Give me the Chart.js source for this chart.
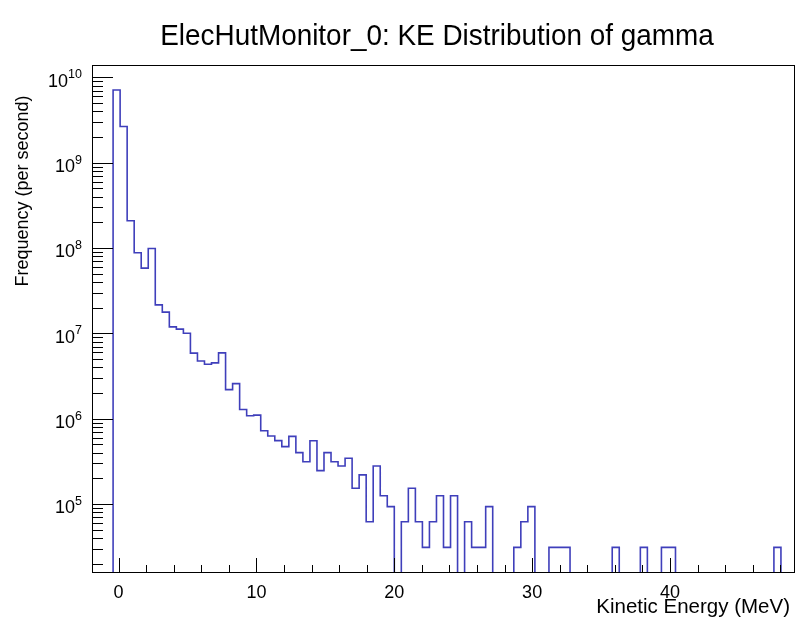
<!DOCTYPE html>
<html><head><meta charset="utf-8">
<script src="https://cdn.jsdelivr.net/npm/chart.js@4.4.1/dist/chart.umd.min.js"></script>
<style>html,body{margin:0;padding:0;background:#fff;}</style>
</head><body>
<canvas id="c" width="798" height="624"></canvas>
<script>
// ---- chart text ----
const titleText = 'ElecHutMonitor_0: KE Distribution of gamma';
const xTitle = 'Kinetic Energy (MeV)';
const yTitle = 'Frequency (per second)';

// ---- histogram binning (axis range) ----
const xMin = -1.93;
const xMax = 49.07;
const nBins = 100;

// ---- tick labels ----
const xTickLabels = [0, 10, 20, 30, 40];
const yTickExponents = [5, 6, 7, 8, 9, 10];

// ---- series: frequency per bin (0 = empty bin) ----
const binValues = [
  0, 0, 0, 7.1e9, 2.65e9, 2.08e8, 8.8e7, 5.8e7, 9.85e7, 2.15e7,
  1.77e7, 1.19e7, 1.12e7, 1.0e7, 5.85e6, 4.74e6, 4.34e6, 4.5e6, 5.9e6, 2.19e6,
  2.57e6, 1.28e6, 1.08e6, 1.1e6, 7.2e5, 6.27e5, 5.52e5, 4.7e5, 6.2e5, 4.0e5,
  3.13e5, 5.5e5, 2.46e5, 4.0e5, 3.13e5, 2.79e5, 3.43e5, 1.53e5, 2.19e5, 6.2e4,
  2.79e5, 1.25e5, 9.3e4, 0, 6.2e4, 1.53e5, 6.2e4, 3.1e4, 6.2e4, 1.25e5,
  3.1e4, 1.25e5, 0, 6.2e4, 3.1e4, 3.1e4, 9.3e4, 0, 0, 0,
  3.1e4, 6.2e4, 9.3e4, 0, 0, 3.1e4, 3.1e4, 3.1e4, 0, 0,
  0, 0, 0, 0, 3.1e4, 0, 0, 0, 3.1e4, 0,
  0, 3.1e4, 3.1e4, 0, 0, 0, 0, 0, 0, 0,
  0, 0, 0, 0, 0, 0, 0, 3.1e4, 0, 0
];

// ---- y axis range (log10 exponents) ----
const yMinExp = 4.191;
const yMaxExp = 10.144;

// build step points from the bins (value of bin i spans [edge i, edge i+1])
const binWidth = (xMax - xMin) / nBins;
const FLOOR = 1; // empty bins drawn below the frame (clipped)
const points = binValues.map((v, i) => ({ x: xMin + i * binWidth, y: v > 0 ? v : FLOOR }));
points.push({ x: xMax, y: FLOOR });

const FONT = '"Liberation Sans", Arial, Helvetica, sans-serif';

const rootAxes = {
  id: 'rootAxes',
  afterDraw(chart) {
    const ctx = chart.ctx;
    const a = chart.chartArea;
    const xs = chart.scales.x, ys = chart.scales.y;
    ctx.save();
    ctx.strokeStyle = '#000';
    ctx.lineWidth = 1;
    // frame
    ctx.strokeRect(a.left + 0.5, a.top + 0.5, a.right - a.left - 1, a.bottom - a.top - 1);
    // x ticks (inward)
    ctx.beginPath();
    for (let v = 0; v <= xMax; v += 2) {
      const px = Math.round(xs.getPixelForValue(v)) + 0.5;
      const len = (v % 10 === 0) ? 15 : 8;
      ctx.moveTo(px, a.bottom);
      ctx.lineTo(px, a.bottom - len);
    }
    // y ticks (inward)
    for (let d = Math.floor(yMinExp); d <= Math.ceil(yMaxExp); d++) {
      for (let m = 1; m <= 9; m++) {
        const v = m * Math.pow(10, d);
        const e = Math.log10(v);
        if (e < yMinExp || e > yMaxExp) continue;
        const py = Math.round(ys.getPixelForValue(v)) + 0.5;
        const len = (m === 1) ? 21 : 11;
        ctx.moveTo(a.left, py);
        ctx.lineTo(a.left + len, py);
      }
    }
    ctx.stroke();

    ctx.fillStyle = '#000';
    // x tick labels
    ctx.font = '18px ' + FONT;
    ctx.textAlign = 'center';
    ctx.textBaseline = 'alphabetic';
    xTickLabels.forEach(v => {
      ctx.fillText(String(v), xs.getPixelForValue(v), 598);
    });
    // y tick labels 10^n
    yTickExponents.forEach(n => {
      const py = ys.getPixelForValue(Math.pow(10, n));
      ctx.font = '12.5px ' + FONT;
      const ew = ctx.measureText(String(n)).width;
      ctx.font = '18px ' + FONT;
      const bw = ctx.measureText('10').width;
      const right = 82;
      ctx.textAlign = 'left';
      ctx.fillText('10', right - ew - bw, py + 9.5);
      ctx.font = '12.5px ' + FONT;
      ctx.fillText(String(n), right - ew, py + 1);
    });
    // axis titles
    ctx.font = '20.5px ' + FONT;
    ctx.textAlign = 'right';
    ctx.fillText(xTitle, 790, 613);
    ctx.save();
    ctx.translate(28, 191);
    ctx.rotate(-Math.PI / 2);
    ctx.textAlign = 'center';
    ctx.font = '18px ' + FONT;
    ctx.fillText(yTitle, 0, 0);
    ctx.restore();
    // main title
    ctx.save();
    ctx.translate(437, 45);
    ctx.scale(0.93, 1);
    ctx.font = '30px ' + FONT;
    ctx.textAlign = 'center';
    ctx.fillText(titleText, 0, 0);
    ctx.restore();
    ctx.restore();
  }
};

new Chart(document.getElementById('c'), {
  type: 'line',
  data: {
    datasets: [{
      label: 'gamma',
      data: points,
      stepped: 'before',
      borderColor: '#3f3fbb',
      borderWidth: 1.6,
      pointRadius: 0,
      fill: false
    }]
  },
  options: {
    responsive: false,
    animation: false,
    layout: { padding: { left: 92, right: 3, top: 65, bottom: 51 } },
    scales: {
      x: { type: 'linear', min: xMin, max: xMax, display: false },
      y: { type: 'logarithmic', min: Math.pow(10, yMinExp), max: Math.pow(10, yMaxExp), display: false }
    },
    plugins: { legend: { display: false }, tooltip: { enabled: false }, title: { display: false } }
  },
  plugins: [rootAxes]
});
</script>
</body></html>
